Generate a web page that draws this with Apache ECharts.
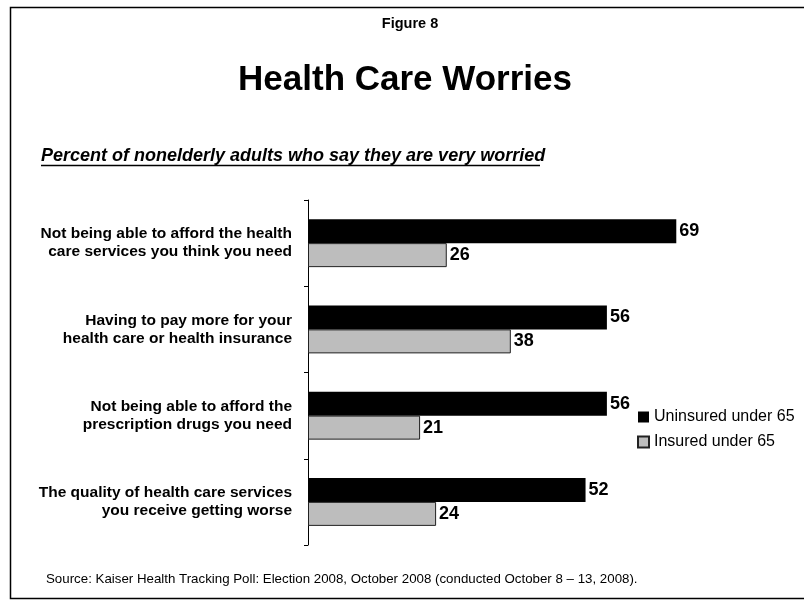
<!DOCTYPE html>
<html><head><meta charset="utf-8">
<script src="https://cdn.jsdelivr.net/npm/echarts@6/dist/echarts.min.js"></script>
<style>html,body{margin:0;padding:0;background:#fff}#c{width:804px;height:606px}</style>
</head><body><div id="c"></div>
<script>
var categories = [
  "Not being able to afford the health\ncare services you think you need",
  "Having to pay more for your\nhealth care or health insurance",
  "Not being able to afford the\nprescription drugs you need",
  "The quality of health care services\nyou receive getting worse"
];
var uninsured = [69, 56, 56, 52];
var insured = [26, 38, 21, 24];
var seriesNames = ["Uninsured under 65", "Insured under 65"];

var SANS = "'Liberation Sans',Arial,sans-serif";

var chart = echarts.init(document.getElementById('c'), null, {renderer: 'canvas'});
chart.setOption({
  animation: false,
  backgroundColor: '#fff',
  grid: {left: 308, top: 200, height: 345, right: 69},
  xAxis: {type: 'value', min: 0, max: 80, show: false},
  yAxis: {
    type: 'category', data: categories, inverse: true,
    axisLine: {lineStyle: {color: '#000', width: 1}},
    axisTick: {show: true, length: 4, lineStyle: {color: '#000'}},
    axisLabel: {color: '#000', fontFamily: SANS, fontWeight: 'bold', fontSize: 15.5, lineHeight: 18, margin: 16, align: 'right'}
  },
  legend: {
    orient: 'vertical', left: 637, top: 409, padding: 0, itemWidth: 11, itemHeight: 11, itemGap: 9,
    icon: 'rect',
    textStyle: {fontFamily: SANS, fontSize: 16, color: '#000'},
    data: seriesNames
  },
  series: [
    {name: seriesNames[0], type: 'bar', data: uninsured, barWidth: 24, barGap: '0%',
     itemStyle: {color: '#000'},
     label: {show: true, position: 'right', distance: 3, color: '#000', fontFamily: SANS, fontWeight: 'bold', fontSize: 18}},
    {name: seriesNames[1], type: 'bar', data: insured, barWidth: 24, barGap: '0%',
     itemStyle: {color: '#bdbdbd', borderColor: '#222', borderWidth: 1},
     label: {show: true, position: 'right', distance: 3, color: '#000', fontFamily: SANS, fontWeight: 'bold', fontSize: 18}}
  ],
  graphic: [
    {type: 'rect', shape: {x: 10.5, y: 7.5, width: 800, height: 591}, style: {fill: 'none', stroke: '#000', lineWidth: 1.5}, silent: true},
    {type: 'text', x: 410, y: 16, style: {text: 'Figure 8', font: 'bold 14.5px ' + SANS, fill: '#000', align: 'center', verticalAlign: 'top'}},
    {type: 'text', x: 405, y: 63, style: {text: 'Health Care Worries', font: 'bold 35px ' + SANS, fill: '#000', align: 'center', verticalAlign: 'top'}},
    {type: 'text', x: 41, y: 147, style: {text: 'Percent of nonelderly adults who say they are very worried', font: 'italic bold 18px ' + SANS, fill: '#000', align: 'left', verticalAlign: 'top'}},
    {type: 'line', shape: {x1: 41, y1: 165.5, x2: 540, y2: 165.5}, style: {stroke: '#000', lineWidth: 1.5}},
    {type: 'text', x: 46, y: 573, style: {text: 'Source: Kaiser Health Tracking Poll: Election 2008, October 2008 (conducted October 8 \u2013 13, 2008).', font: '13.3px ' + SANS, fill: '#000', align: 'left', verticalAlign: 'top'}}
  ]
});
</script></body></html>
